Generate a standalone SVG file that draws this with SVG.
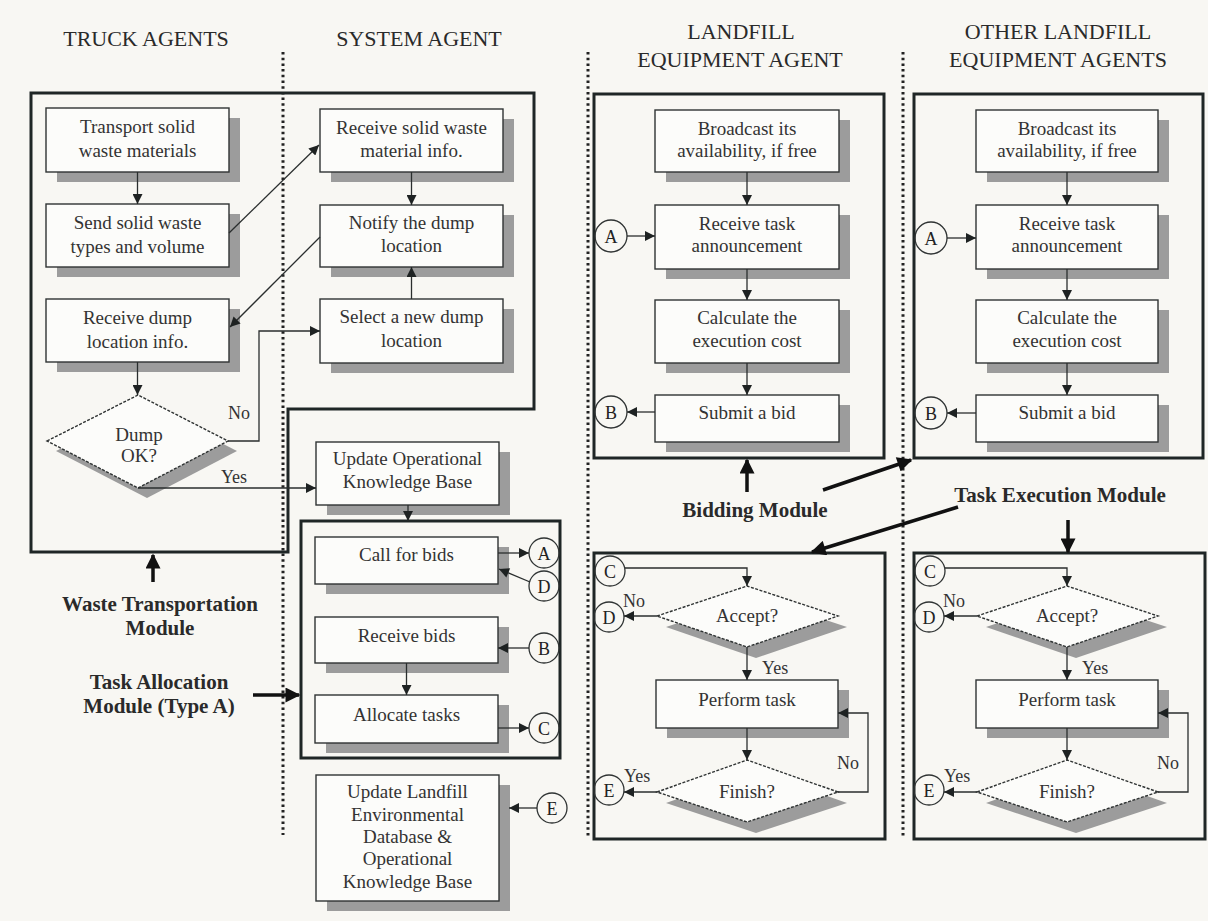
<svg xmlns="http://www.w3.org/2000/svg" width="1208" height="921" viewBox="0 0 1208 921">
<defs>
<marker id="ah" viewBox="0 0 10 10" refX="10" refY="5" markerWidth="11" markerHeight="10" markerUnits="userSpaceOnUse" orient="auto"><path d="M0,0 L10,5 L0,10 z" fill="#1e2222"/></marker>
<marker id="ahb" viewBox="0 0 10 10" refX="9" refY="5" markerWidth="16" markerHeight="15" markerUnits="userSpaceOnUse" orient="auto"><path d="M0,0 L10,5 L0,10 z" fill="#111"/></marker>
<style>
text{font-family:"Liberation Serif","Times New Roman",serif;fill:#333;text-anchor:middle}
.t{font-size:19px}
.h{font-size:22px;fill:#2a2a2a}
.m{font-size:21px;font-weight:bold;fill:#2a2a2a}
.l{font-size:18px}
.c{font-size:18px;fill:#222}
.ls{text-anchor:start}
.box{fill:#fcfcfa;stroke:#2f3333;stroke-width:1.4}
.sh{fill:#9c9c9c}
.mod{fill:none;stroke:#1f2626;stroke-width:3}
.cir{fill:none;stroke:#2f3333;stroke-width:1.3}
.cn{fill:none;stroke:#2a2e2e;stroke-width:1.3}
.thick{fill:none;stroke:#111;stroke-width:3.5}
.dot{fill:none;stroke:#222;stroke-width:3;stroke-dasharray:2.5 3.2}
</style>
</defs>
<rect width="1208" height="921" fill="#f8f7f3"/>

<g id="headers">
<text class="h" x="146" y="46">TRUCK AGENTS</text>
<text class="h" x="419" y="46">SYSTEM AGENT</text>
<text class="h" x="741" y="39">LANDFILL</text>
<text class="h" x="740" y="67">EQUIPMENT AGENT</text>
<text class="h" x="1058" y="39">OTHER LANDFILL</text>
<text class="h" x="1058" y="67">EQUIPMENT AGENTS</text>
</g>

<g id="lanes">
<line class="dot" x1="283" y1="52" x2="283" y2="835"/>
<line class="dot" x1="588" y1="52" x2="588" y2="838"/>
<line class="dot" x1="903" y1="52" x2="903" y2="836"/>
</g>

<g id="modules">
<path class="mod" d="M31,93 H534 V409 H288 V552 H31 Z"/>
<rect class="mod" x="301" y="521" width="259" height="237"/>
<rect class="mod" x="594" y="94" width="290" height="364"/>
<rect class="mod" x="914" y="94" width="289" height="364"/>
<rect class="mod" x="594" y="553" width="291" height="286"/>
<rect class="mod" x="914" y="553" width="291" height="286"/>
</g>

<!-- Truck agents -->
<g id="n-transport"><rect class="sh" x="57" y="118" width="183" height="64"/><rect class="box" x="46" y="108" width="183" height="64"/><text class="t" x="137.5" y="133">Transport solid</text><text class="t" x="137.5" y="157">waste materials</text></g>
<g id="n-send"><rect class="sh" x="57" y="214" width="183" height="63"/><rect class="box" x="46" y="204" width="183" height="63"/><text class="t" x="137.5" y="229">Send solid waste</text><text class="t" x="137.5" y="253">types and volume</text></g>
<g id="n-recvdump"><rect class="sh" x="57" y="309" width="183" height="63"/><rect class="box" x="46" y="299" width="183" height="63"/><text class="t" x="137.5" y="324">Receive dump</text><text class="t" x="137.5" y="348">location info.</text></g>
<g id="n-dumpok"><polygon class="sh" points="56,451 147,405 237,451 147,498"/><polygon class="box" points="47,441 138,395 228,441 138,488" style="stroke-dasharray:3 1.5"/><text class="t" x="139" y="441">Dump</text><text class="t" x="139" y="462">OK?</text></g>

<!-- System agent -->
<g id="n-recvsolid"><rect class="sh" x="331" y="119" width="183" height="63"/><rect class="box" x="320" y="109" width="183" height="63"/><text class="t" x="411.5" y="134">Receive solid waste</text><text class="t" x="411.5" y="157">material info.</text></g>
<g id="n-notify"><rect class="sh" x="331" y="215" width="183" height="62"/><rect class="box" x="320" y="205" width="183" height="62"/><text class="t" x="411.5" y="229">Notify the dump</text><text class="t" x="411.5" y="252">location</text></g>
<g id="n-select"><rect class="sh" x="331" y="309" width="183" height="64"/><rect class="box" x="320" y="299" width="183" height="64"/><text class="t" x="411.5" y="323">Select a new dump</text><text class="t" x="411.5" y="347">location</text></g>
<g id="n-updateop"><rect class="sh" x="327" y="452" width="183" height="63"/><rect class="box" x="316" y="442" width="183" height="63"/><text class="t" x="407.5" y="465">Update Operational</text><text class="t" x="407.5" y="488">Knowledge Base</text></g>
<g id="n-callbids"><rect class="sh" x="326" y="547" width="183" height="47"/><rect class="box" x="315" y="537" width="183" height="47"/><text class="t" x="406.5" y="561">Call for bids</text></g>
<g id="n-recvbids"><rect class="sh" x="326" y="627" width="183" height="46"/><rect class="box" x="315" y="617" width="183" height="46"/><text class="t" x="406.5" y="642">Receive bids</text></g>
<g id="n-allocate"><rect class="sh" x="326" y="705" width="183" height="48"/><rect class="box" x="315" y="695" width="183" height="48"/><text class="t" x="406.5" y="721">Allocate tasks</text></g>
<g id="n-updatelf"><rect class="sh" x="327" y="785" width="183" height="126"/><rect class="box" x="316" y="775" width="183" height="126"/><text class="t" x="407.5" y="798">Update Landfill</text><text class="t" x="407.5" y="821">Environmental</text><text class="t" x="407.5" y="843">Database &amp;</text><text class="t" x="407.5" y="865">Operational</text><text class="t" x="407.5" y="888">Knowledge Base</text></g>
<g id="n-sysA"><circle class="cir" cx="544" cy="553" r="15"/><text class="c" x="544" y="560">A</text></g>
<g id="n-sysD"><circle class="cir" cx="544" cy="586" r="15"/><text class="c" x="544" y="593">D</text></g>
<g id="n-sysB"><circle class="cir" cx="544" cy="648" r="15"/><text class="c" x="544" y="655">B</text></g>
<g id="n-sysC"><circle class="cir" cx="544" cy="728" r="15"/><text class="c" x="544" y="735">C</text></g>
<g id="n-sysE"><circle class="cir" cx="552" cy="808" r="15"/><text class="c" x="552" y="815">E</text></g>

<!-- Landfill equipment agent (bidding) -->
<g id="n-lf-broadcast"><rect class="sh" x="666" y="120" width="184" height="62"/><rect class="box" x="655" y="110" width="184" height="62"/><text class="t" x="747" y="135">Broadcast its</text><text class="t" x="747" y="157">availability, if free</text></g>
<g id="n-lf-recvtask"><rect class="sh" x="666" y="215" width="184" height="64"/><rect class="box" x="655" y="205" width="184" height="64"/><text class="t" x="747" y="230">Receive task</text><text class="t" x="747" y="252">announcement</text></g>
<g id="n-lf-calc"><rect class="sh" x="666" y="310" width="184" height="63"/><rect class="box" x="655" y="300" width="184" height="63"/><text class="t" x="747" y="324">Calculate the</text><text class="t" x="747" y="347">execution cost</text></g>
<g id="n-lf-submit"><rect class="sh" x="666" y="405" width="184" height="47"/><rect class="box" x="655" y="395" width="184" height="47"/><text class="t" x="747" y="419">Submit a bid</text></g>
<g id="n-lf-A"><circle class="cir" cx="611" cy="236" r="16"/><text class="c" x="611" y="243">A</text></g>
<g id="n-lf-B"><circle class="cir" cx="611" cy="412" r="16"/><text class="c" x="611" y="419">B</text></g>

<!-- Other landfill equipment agents (bidding) -->
<g id="n-ol-broadcast"><rect class="sh" x="987" y="120" width="182" height="62"/><rect class="box" x="976" y="110" width="182" height="62"/><text class="t" x="1067" y="135">Broadcast its</text><text class="t" x="1067" y="157">availability, if free</text></g>
<g id="n-ol-recvtask"><rect class="sh" x="987" y="215" width="182" height="64"/><rect class="box" x="976" y="205" width="182" height="64"/><text class="t" x="1067" y="230">Receive task</text><text class="t" x="1067" y="252">announcement</text></g>
<g id="n-ol-calc"><rect class="sh" x="987" y="310" width="182" height="63"/><rect class="box" x="976" y="300" width="182" height="63"/><text class="t" x="1067" y="324">Calculate the</text><text class="t" x="1067" y="347">execution cost</text></g>
<g id="n-ol-submit"><rect class="sh" x="987" y="405" width="182" height="47"/><rect class="box" x="976" y="395" width="182" height="47"/><text class="t" x="1067" y="419">Submit a bid</text></g>
<g id="n-ol-A"><circle class="cir" cx="931" cy="238" r="16"/><text class="c" x="931" y="245">A</text></g>
<g id="n-ol-B"><circle class="cir" cx="931" cy="413" r="16"/><text class="c" x="931" y="420">B</text></g>

<!-- Landfill equipment agent (execution) -->
<g id="n-lf-C"><circle class="cir" cx="610" cy="571" r="15"/><text class="c" x="610" y="578">C</text></g>
<g id="n-lf-accept"><polygon class="sh" points="666,627 756,597 847,627 756,658"/><polygon class="box" points="657,616 747,586 838,616 747,647" style="stroke-dasharray:3 1.5"/><text class="t" x="747" y="622">Accept?</text></g>
<g id="n-lf-D"><circle class="cir" cx="609" cy="617" r="15"/><text class="c" x="609" y="624">D</text></g>
<g id="n-lf-perform"><rect class="sh" x="667" y="690" width="182" height="48"/><rect class="box" x="656" y="680" width="182" height="48"/><text class="t" x="747" y="706">Perform task</text></g>
<g id="n-lf-finish"><polygon class="sh" points="666,803 756,771 847,803 756,833"/><polygon class="box" points="657,792 747,760 838,792 747,822" style="stroke-dasharray:3 1.5"/><text class="t" x="747" y="798">Finish?</text></g>
<g id="n-lf-E"><circle class="cir" cx="609" cy="790" r="15"/><text class="c" x="609" y="797">E</text></g>

<!-- Other landfill equipment agents (execution) -->
<g id="n-ol-C"><circle class="cir" cx="930" cy="571" r="15"/><text class="c" x="930" y="578">C</text></g>
<g id="n-ol-accept"><polygon class="sh" points="986,627 1076,597 1167,627 1076,658"/><polygon class="box" points="977,616 1067,586 1158,616 1067,647" style="stroke-dasharray:3 1.5"/><text class="t" x="1067" y="622">Accept?</text></g>
<g id="n-ol-D"><circle class="cir" cx="929" cy="617" r="15"/><text class="c" x="929" y="624">D</text></g>
<g id="n-ol-perform"><rect class="sh" x="987" y="690" width="182" height="48"/><rect class="box" x="976" y="680" width="182" height="48"/><text class="t" x="1067" y="706">Perform task</text></g>
<g id="n-ol-finish"><polygon class="sh" points="986,803 1076,771 1167,803 1076,833"/><polygon class="box" points="977,792 1067,760 1158,792 1067,822" style="stroke-dasharray:3 1.5"/><text class="t" x="1067" y="798">Finish?</text></g>
<g id="n-ol-E"><circle class="cir" cx="929" cy="790" r="15"/><text class="c" x="929" y="797">E</text></g>

<!-- Module labels -->
<g id="lbl-waste"><text class="m" x="160" y="611">Waste Transportation</text><text class="m" x="160" y="635">Module</text></g>
<g id="lbl-alloc"><text class="m" x="159" y="689">Task Allocation</text><text class="m" x="159" y="713">Module (Type A)</text></g>
<g id="lbl-bidding"><text class="m" x="755" y="517">Bidding Module</text></g>
<g id="lbl-exec"><text class="m" x="1060" y="502">Task Execution Module</text></g>

<g id="connectors">
<line class="cn" x1="137.5" y1="172" x2="137.5" y2="204" marker-end="url(#ah)"/>
<line class="cn" x1="137.5" y1="362" x2="137.5" y2="395" marker-end="url(#ah)"/>
<line class="cn" x1="229" y1="233" x2="319" y2="145" marker-end="url(#ah)"/>
<line class="cn" x1="320" y1="237" x2="230" y2="327" marker-end="url(#ah)"/>
<line class="cn" x1="411.5" y1="172" x2="411.5" y2="205" marker-end="url(#ah)"/>
<line class="cn" x1="411.5" y1="299" x2="411.5" y2="267" marker-end="url(#ah)"/>
<polyline class="cn" points="228,441 259,441 259,331 320,331" marker-end="url(#ah)"/>
<polyline class="cn" points="138,488 316,488" marker-end="url(#ah)"/>
<text class="l" x="239" y="419">No</text>
<text class="l" x="234" y="483">Yes</text>
<line class="cn" x1="408" y1="505" x2="408" y2="521" marker-end="url(#ah)"/>
<line class="cn" x1="498" y1="553" x2="529" y2="553" marker-end="url(#ah)"/>
<line class="cn" x1="530" y1="582" x2="499" y2="569" marker-end="url(#ah)"/>
<line class="cn" x1="529" y1="648" x2="498" y2="648" marker-end="url(#ah)"/>
<line class="cn" x1="406.5" y1="663" x2="406.5" y2="695" marker-end="url(#ah)"/>
<line class="cn" x1="498" y1="728" x2="529" y2="728" marker-end="url(#ah)"/>
<line class="cn" x1="537" y1="808" x2="509" y2="808" marker-end="url(#ah)"/>

<line class="cn" x1="747" y1="172" x2="747" y2="205" marker-end="url(#ah)"/>
<line class="cn" x1="747" y1="269" x2="747" y2="300" marker-end="url(#ah)"/>
<line class="cn" x1="747" y1="363" x2="747" y2="395" marker-end="url(#ah)"/>
<line class="cn" x1="627" y1="236" x2="655" y2="236" marker-end="url(#ah)"/>
<line class="cn" x1="655" y1="412" x2="627" y2="412" marker-end="url(#ah)"/>

<line class="cn" x1="1067" y1="172" x2="1067" y2="205" marker-end="url(#ah)"/>
<line class="cn" x1="1067" y1="269" x2="1067" y2="300" marker-end="url(#ah)"/>
<line class="cn" x1="1067" y1="363" x2="1067" y2="395" marker-end="url(#ah)"/>
<line class="cn" x1="947" y1="238" x2="976" y2="238" marker-end="url(#ah)"/>
<line class="cn" x1="976" y1="413" x2="947" y2="413" marker-end="url(#ah)"/>

<polyline class="cn" points="625,568 747,568 747,586" marker-end="url(#ah)"/>
<line class="cn" x1="657" y1="616" x2="624" y2="616" marker-end="url(#ah)"/>
<line class="cn" x1="747" y1="647" x2="747" y2="680" marker-end="url(#ah)"/>
<line class="cn" x1="747" y1="728" x2="747" y2="760" marker-end="url(#ah)"/>
<line class="cn" x1="657" y1="792" x2="624" y2="792" marker-end="url(#ah)"/>
<polyline class="cn" points="838,792 868,792 868,713 838,713" marker-end="url(#ah)"/>
<text class="l ls" x="623" y="607">No</text>
<text class="l ls" x="762" y="674">Yes</text>
<text class="l ls" x="624" y="782">Yes</text>
<text class="l ls" x="837" y="769">No</text>

<polyline class="cn" points="945,568 1067,568 1067,586" marker-end="url(#ah)"/>
<line class="cn" x1="977" y1="616" x2="944" y2="616" marker-end="url(#ah)"/>
<line class="cn" x1="1067" y1="647" x2="1067" y2="680" marker-end="url(#ah)"/>
<line class="cn" x1="1067" y1="728" x2="1067" y2="760" marker-end="url(#ah)"/>
<line class="cn" x1="977" y1="792" x2="944" y2="792" marker-end="url(#ah)"/>
<polyline class="cn" points="1158,792 1188,792 1188,713 1158,713" marker-end="url(#ah)"/>
<text class="l ls" x="943" y="607">No</text>
<text class="l ls" x="1082" y="674">Yes</text>
<text class="l ls" x="944" y="782">Yes</text>
<text class="l ls" x="1157" y="769">No</text>

<line class="thick" x1="153" y1="582" x2="153" y2="555" marker-end="url(#ahb)"/>
<line class="thick" x1="253" y1="695" x2="299" y2="695" marker-end="url(#ahb)"/>
<line class="thick" x1="747" y1="492" x2="747" y2="460" marker-end="url(#ahb)"/>
<line class="thick" x1="823" y1="490" x2="911" y2="460" marker-end="url(#ahb)"/>
<line class="thick" x1="958" y1="507" x2="812" y2="552" marker-end="url(#ahb)"/>
<line class="thick" x1="1068" y1="520" x2="1068" y2="552" marker-end="url(#ahb)"/>
</g>
</svg>
